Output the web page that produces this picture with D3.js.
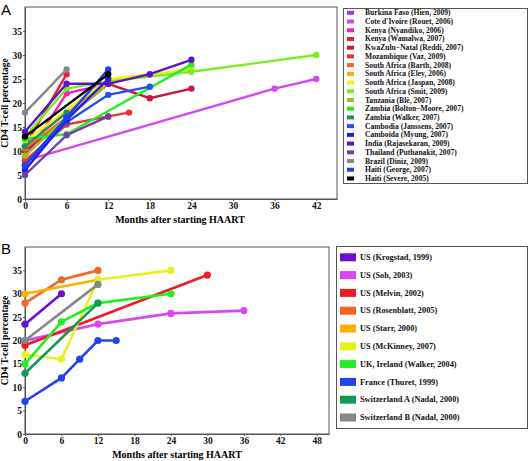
<!DOCTYPE html>
<html><head><meta charset="utf-8">
<script src="https://cdn.jsdelivr.net/npm/d3@7"></script>
<style>body{margin:0;background:#fff}svg{display:block}</style>
</head><body><svg id="c" width="529" height="461"></svg>
<script>
// ---------- Panel A data ----------
const studiesA = ["Burkina Faso (Hien, 2009)","Cote d'Ivoire (Rouet, 2006)","Kenya (Nyandiko, 2006)","Kenya (Wamalwa, 2007)","KwaZulu\u2212Natal (Reddi, 2007)","Mozambique (Vaz, 2009)","South Africa (Barth, 2008)","South Africa (Eley, 2006)","South Africa (Jaspan, 2008)","South Africa (Smit, 2009)","Tanzania (Bl\u00e8, 2007)","Zambia (Bolton\u2212Moore, 2007)","Zambia (Walker, 2007)","Cambodia (Janssens, 2007)","Camboida (Myung, 2007)","India (Rajasekaran, 2009)","Thailand (Puthanakit, 2007)","Brazil (Diniz, 2009)","Haiti (George, 2007)","Haiti (Severe, 2005)"];
const colorsA = ["#a030e0","#d048f0","#f020c0","#e82030","#c81840","#f03030","#f06a20","#f8a800","#f0f020","#78ee20","#a0c020","#20ee20","#209060","#2050f0","#2020e0","#6010c8","#7040a8","#888888","#2040f0","#000000"];
const monthsA = [
  [0,6,12],[0,36,42],[0,6,12],[0,6],[0,12,18,24],[0,6,12,15],[0,6,12],[0,6,12],[0,12,24],[0,6,12,24,42],
  [0,6,12],[0,6,24],[0,6],[0,6,12,18],[0,6,12],[0,6,12,18,24],[0,6,12],[0,6],[0,6,12],[0,12]
];
const valuesA = [
  [7,17,24],[8,23,25],[8.5,22,24],[11,26],[10,24,21,23],[8,15.5,17.2,18],[10.5,17,24],[11,18,24.5],[12,25,27],[13,23,24.5,26.5,30],
  [9,17,24],[12.5,13.5,28],[11,18],[7,16,21.7,23.4],[6,16.5,25],[14,24,24,26,29],[5,13.3,17.2],[18,27],[7,17,27],[13,26]
];
const xTicksA = [0,6,12,18,24,30,36,42];
// ---------- Panel B data ----------
const studiesB = ["US  (Krogstad, 1999)","US  (Soh, 2003)","US  (Melvin, 2002)","US  (Rosenblatt, 2005)","US  (Starr, 2000)","US  (McKinney, 2007)","UK, Ireland  (Walker, 2004)","France (Thuret, 1999)","Switzerland A  (Nadal, 2000)","Switzerland B  (Nadal, 2000)"];
const colorsB = ["#6a10cf","#d848f0","#ee1c24","#f26522","#ffb000","#e8f020","#22ee22","#2244ee","#119955","#888888"];
const monthsB = [[0,6],[0,12,24,36],[0,30],[0,6,12],[0,12],[0,6,12,24],[0,6,12,24],[0,6,9,12,15],[0,12],[0,12]];
const valuesB = [[23.5,30],[20,23.5,25.8,26.4],[19,34],[28,33,35],[30,33],[17,16,33,35],[15,24,28,30],[7,12,16,20,20],[13,28],[20,32]];
const xTicksB = [0,6,12,18,24,30,36,42,48];
const yTicks = [0,5,10,15,20,25,30,35];

const svg = d3.select("#c");
const serif = "'Liberation Serif','Times New Roman',serif";

function panel(cfg){
  const g = svg.append("g");
  const x = d3.scaleLinear().domain([0,cfg.xmax]).range([cfg.left,cfg.right]);
  const y = d3.scaleLinear().domain([0,40]).range([cfg.bottom,cfg.top]);
  g.append("rect").attr("x",cfg.left).attr("y",cfg.top).attr("width",cfg.right-cfg.left).attr("height",cfg.bottom-cfg.top)
    .attr("fill","none").attr("stroke","#555").attr("stroke-width",1);
  const xa = g.append("g").attr("transform",`translate(0,${cfg.bottom})`)
    .call(d3.axisBottom(x).tickValues(cfg.xticks).tickSize(2).tickPadding(1).tickSizeOuter(0).tickFormat(d3.format("d")));
  const ya = g.append("g").attr("transform",`translate(${cfg.left},0)`)
    .call(d3.axisLeft(y).tickValues(yTicks).tickSize(2).tickPadding(1).tickSizeOuter(0).tickFormat(d3.format("d")));
  [xa,ya].forEach(a=>{
    a.select(".domain").attr("stroke","#555");
    a.selectAll(".tick line").attr("stroke","#555");
    a.selectAll("text").attr("font-family",serif).attr("font-weight","bold").attr("font-size",9.5).attr("fill","#111");
  });
  g.append("text").attr("x",cfg.labelX).attr("y",cfg.bottom+24).attr("text-anchor","middle")
    .attr("font-family",serif).attr("font-weight","bold").attr("font-size",10).text("Months after starting HAART");
  g.append("text").attr("transform",`translate(8,${(cfg.top+cfg.bottom)/2}) rotate(-90)`).attr("text-anchor","middle")
    .attr("font-family",serif).attr("font-weight","bold").attr("font-size",9.5).text("CD4 T-cell percentage");
  g.append("text").attr("x",1).attr("y",cfg.letterY).attr("font-family","'Liberation Sans',Arial,sans-serif")
    .attr("font-size",15).text(cfg.letter);
  const line = d3.line().x(d=>x(d[0])).y(d=>y(d[1]));
  cfg.months.forEach((ms,i)=>{
    const pts = ms.map((m,j)=>[m,cfg.values[i][j]]);
    const s = g.append("g");
    s.append("path").attr("d",line(pts)).attr("fill","none").attr("stroke",cfg.colors[i]).attr("stroke-width",cfg.lw);
    s.selectAll("circle").data(pts).join("circle").attr("cx",d=>x(d[0])).attr("cy",d=>y(d[1])).attr("r",cfg.r).attr("fill",cfg.colors[i]);
  });
}

panel({left:25,right:337,top:7,bottom:199,xmax:45,xticks:xTicksA,months:monthsA,values:valuesA,colors:colorsA,lw:2.4,r:3.2,letter:"A",letterY:15,labelX:180});
panel({left:25,right:329,top:247,bottom:434,xmax:50,xticks:xTicksB,months:monthsB,values:valuesB,colors:colorsB,lw:2.6,r:3.6,letter:"B",letterY:254,labelX:177});

// Legend A
const lgA = svg.append("g");
lgA.append("rect").attr("x",343.5).attr("y",8.5).attr("width",184).attr("height",175).attr("fill","#fff").attr("stroke","#555");
studiesA.forEach((s,i)=>{
  const cy = 12.8 + i*8.72;
  lgA.append("rect").attr("x",347).attr("y",cy-2).attr("width",7).attr("height",4).attr("fill",colorsA[i]);
  lgA.append("text").attr("x",365).attr("y",cy).attr("dy","0.33em").attr("font-family",serif).attr("font-weight","bold")
    .attr("font-size",7.6).attr("fill","#111").text(s);
});
// Legend B
const lgB = svg.append("g");
lgB.append("rect").attr("x",336.5).attr("y",246.5).attr("width",191).attr("height",182).attr("fill","#fff").attr("stroke","#555");
studiesB.forEach((s,i)=>{
  const cy = 257.3 + i*17.8;
  lgB.append("rect").attr("x",340).attr("y",cy-4).attr("width",16).attr("height",8).attr("fill",colorsB[i]);
  lgB.append("text").attr("x",360).attr("y",cy).attr("dy","0.33em").attr("font-family",serif).attr("font-weight","bold")
    .attr("font-size",8.3).attr("fill","#111").text(s);
});
</script></body></html>
